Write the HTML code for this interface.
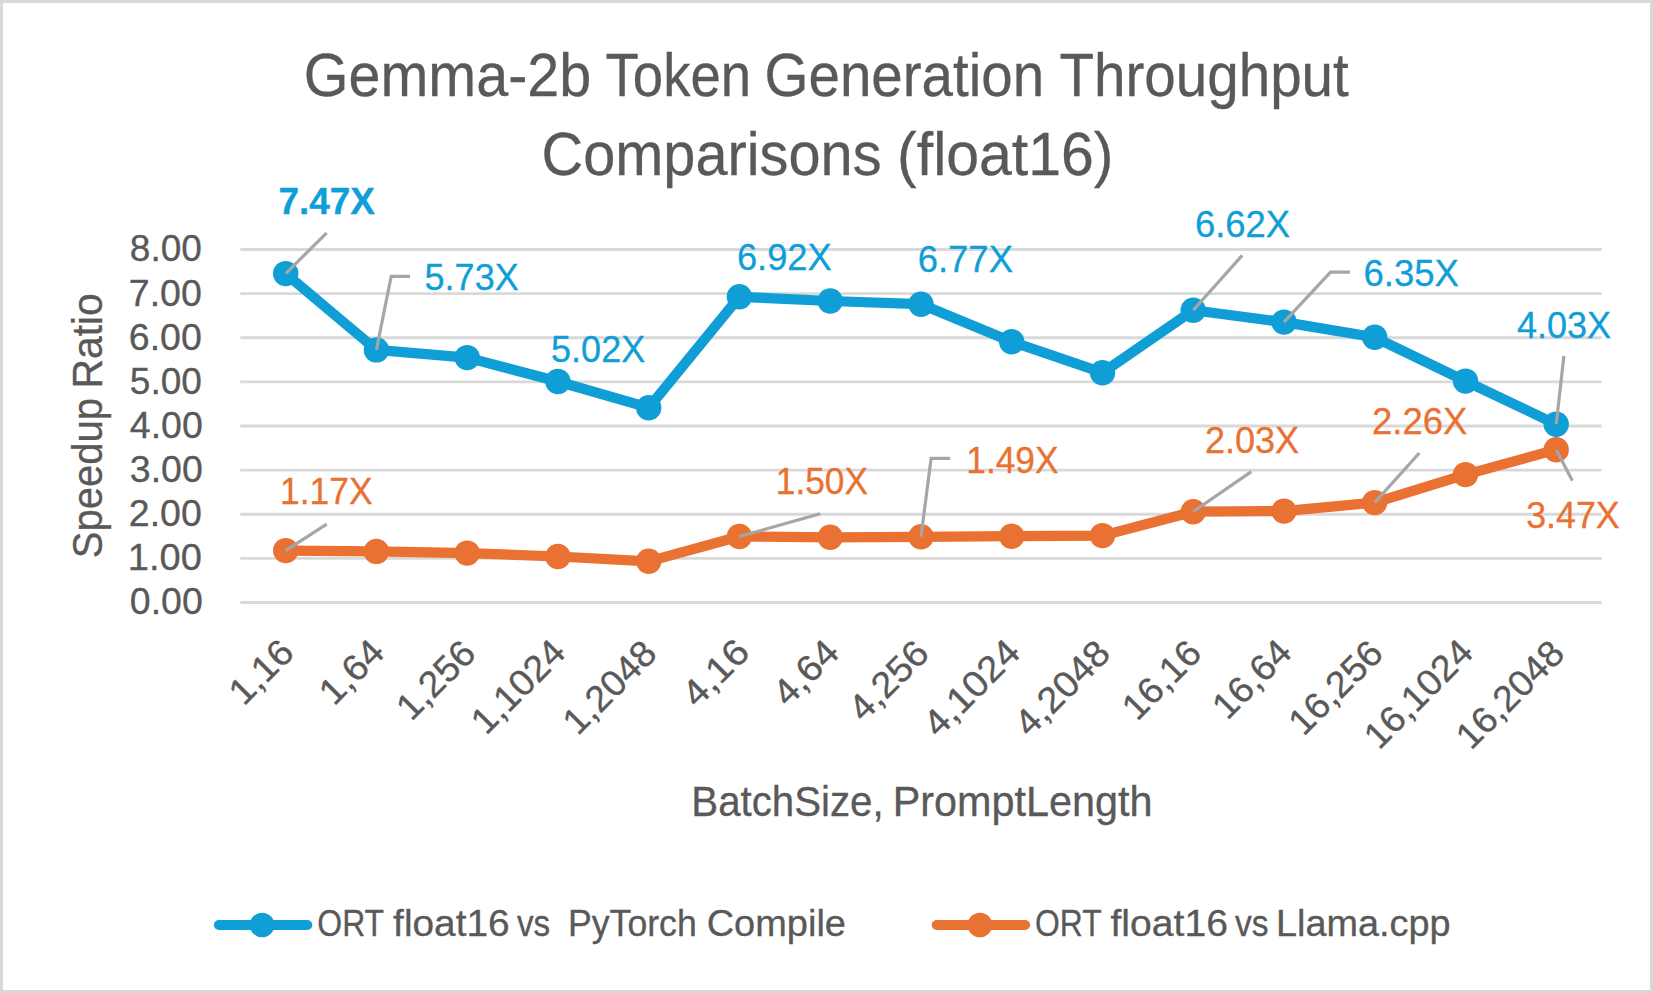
<!DOCTYPE html>
<html lang="en"><head><meta charset="utf-8"><title>Gemma-2b Token Generation Throughput Comparisons (float16)</title>
<style>html,body{margin:0;padding:0;background:#fff}svg{display:block}text{stroke-width:0.32px;font-family:"Liberation Sans",sans-serif;white-space:pre}</style></head><body>
<svg width="1653" height="993" viewBox="0 0 1653 993">
<rect x="0" y="0" width="1653" height="993" fill="#fff"/>
<rect id="border" x="1.5" y="1.5" width="1650" height="990" fill="none" stroke="#D9D9D9" stroke-width="3"/>
<g id="grid" stroke="#D9D9D9" stroke-width="2.8">
<line x1="240.3" x2="1601.6" y1="602.50" y2="602.50"/>
<line x1="240.3" x2="1601.6" y1="558.38" y2="558.38"/>
<line x1="240.3" x2="1601.6" y1="514.25" y2="514.25"/>
<line x1="240.3" x2="1601.6" y1="470.12" y2="470.12"/>
<line x1="240.3" x2="1601.6" y1="426.00" y2="426.00"/>
<line x1="240.3" x2="1601.6" y1="381.88" y2="381.88"/>
<line x1="240.3" x2="1601.6" y1="337.75" y2="337.75"/>
<line x1="240.3" x2="1601.6" y1="293.62" y2="293.62"/>
<line x1="240.3" x2="1601.6" y1="249.50" y2="249.50"/>
</g>
<g id="sb"><polyline points="285.7,273.6 376.4,349.9 467.2,357.6 557.9,381.5 648.7,407.7 739.4,296.8 830.2,301.0 921.0,304.2 1011.7,341.7 1102.5,372.7 1193.2,310.2 1284.0,322.1 1374.7,337.3 1465.5,381.1 1556.2,424.3" fill="none" stroke="#0F9ED5" stroke-width="10.2" stroke-linejoin="round" stroke-linecap="round"/>
<circle cx="285.7" cy="273.6" r="12.7" fill="#0F9ED5"/>
<circle cx="376.4" cy="349.9" r="12.7" fill="#0F9ED5"/>
<circle cx="467.2" cy="357.6" r="12.7" fill="#0F9ED5"/>
<circle cx="557.9" cy="381.5" r="12.7" fill="#0F9ED5"/>
<circle cx="648.7" cy="407.7" r="12.7" fill="#0F9ED5"/>
<circle cx="739.4" cy="296.8" r="12.7" fill="#0F9ED5"/>
<circle cx="830.2" cy="301.0" r="12.7" fill="#0F9ED5"/>
<circle cx="921.0" cy="304.2" r="12.7" fill="#0F9ED5"/>
<circle cx="1011.7" cy="341.7" r="12.7" fill="#0F9ED5"/>
<circle cx="1102.5" cy="372.7" r="12.7" fill="#0F9ED5"/>
<circle cx="1193.2" cy="310.2" r="12.7" fill="#0F9ED5"/>
<circle cx="1284.0" cy="322.1" r="12.7" fill="#0F9ED5"/>
<circle cx="1374.7" cy="337.3" r="12.7" fill="#0F9ED5"/>
<circle cx="1465.5" cy="381.1" r="12.7" fill="#0F9ED5"/>
<circle cx="1556.2" cy="424.3" r="12.7" fill="#0F9ED5"/>
</g>
<g id="so"><polyline points="285.7,550.6 376.4,551.4 467.2,553.1 557.9,556.5 648.7,561.3 739.4,536.5 830.2,537.3 921.0,536.8 1011.7,536.2 1102.5,535.6 1193.2,511.7 1284.0,511.1 1374.7,502.6 1465.5,474.6 1556.2,449.7" fill="none" stroke="#E97132" stroke-width="10.2" stroke-linejoin="round" stroke-linecap="round"/>
<circle cx="285.7" cy="550.6" r="12.7" fill="#E97132"/>
<circle cx="376.4" cy="551.4" r="12.7" fill="#E97132"/>
<circle cx="467.2" cy="553.1" r="12.7" fill="#E97132"/>
<circle cx="557.9" cy="556.5" r="12.7" fill="#E97132"/>
<circle cx="648.7" cy="561.3" r="12.7" fill="#E97132"/>
<circle cx="739.4" cy="536.5" r="12.7" fill="#E97132"/>
<circle cx="830.2" cy="537.3" r="12.7" fill="#E97132"/>
<circle cx="921.0" cy="536.8" r="12.7" fill="#E97132"/>
<circle cx="1011.7" cy="536.2" r="12.7" fill="#E97132"/>
<circle cx="1102.5" cy="535.6" r="12.7" fill="#E97132"/>
<circle cx="1193.2" cy="511.7" r="12.7" fill="#E97132"/>
<circle cx="1284.0" cy="511.1" r="12.7" fill="#E97132"/>
<circle cx="1374.7" cy="502.6" r="12.7" fill="#E97132"/>
<circle cx="1465.5" cy="474.6" r="12.7" fill="#E97132"/>
<circle cx="1556.2" cy="449.7" r="12.7" fill="#E97132"/>
</g>
<g id="lead" fill="none" stroke="#A6A6A6" stroke-width="3.2">
<polyline points="285.7,273.6 326.7,232.8"/>
<polyline points="376.4,349.9 391.2,276.3 410.0,276.3"/>
<polyline points="1193.2,310.2 1242.2,255.4"/>
<polyline points="1284.0,322.1 1330.5,272.2 1349.9,272.2"/>
<polyline points="1556.2,424.3 1563.9,355.9"/>
<polyline points="285.7,550.6 326.7,524.1"/>
<polyline points="739.4,536.5 820.2,513.7"/>
<polyline points="921.0,536.8 931.1,458.3 950.2,458.3"/>
<polyline points="1193.2,511.7 1251.3,471.6"/>
<polyline points="1374.7,502.6 1419.3,453.0"/>
<polyline points="1556.2,449.7 1572.4,480.7"/>
</g>
<g class="lg"><line x1="218.9" x2="307.3" y1="925" y2="925" stroke="#0F9ED5" stroke-width="10" stroke-linecap="round"/><circle cx="262.1" cy="925" r="12.3" fill="#0F9ED5"/></g>
<g class="lg"><line x1="936.7" x2="1025.1" y1="925" y2="925" stroke="#E97132" stroke-width="10" stroke-linecap="round"/><circle cx="979.9" cy="925" r="12.3" fill="#E97132"/></g>
<text id="t1_0" transform="translate(303.80,95.80) scale(0.9422,1)" font-size="61.00" fill="#595959" stroke="#595959">Gemma-2b</text>
<text id="t1_1" transform="translate(605.60,95.80) scale(0.8934,1)" font-size="61.00" fill="#595959" stroke="#595959">Token</text>
<text id="t1_2" transform="translate(764.60,95.80) scale(0.9262,1)" font-size="61.00" fill="#595959" stroke="#595959">Generation</text>
<text id="t1_3" transform="translate(1059.40,95.80) scale(0.9276,1)" font-size="61.00" fill="#595959" stroke="#595959">Throughput</text>
<text id="t2_0" transform="translate(541.50,174.80) scale(0.9464,1)" font-size="61.00" fill="#595959" stroke="#595959">Comparisons</text>
<text id="t2_1" transform="translate(897.10,174.80) scale(0.9672,1)" font-size="61.00" fill="#595959" stroke="#595959">(float16)</text>
<text id="y0" transform="translate(129.80,614.40) scale(1.0118,1)" font-size="37.10" fill="#595959" stroke="#595959">0.00</text>
<text id="y1" transform="translate(127.80,570.27) scale(1.0256,1)" font-size="37.10" fill="#595959" stroke="#595959">1.00</text>
<text id="y2" transform="translate(128.80,526.15) scale(1.0118,1)" font-size="37.10" fill="#595959" stroke="#595959">2.00</text>
<text id="y3" transform="translate(129.80,482.02) scale(1.0118,1)" font-size="37.10" fill="#595959" stroke="#595959">3.00</text>
<text id="y4" transform="translate(129.80,437.90) scale(1.0118,1)" font-size="37.10" fill="#595959" stroke="#595959">4.00</text>
<text id="y5" transform="translate(129.80,393.77) scale(0.9979,1)" font-size="37.10" fill="#595959" stroke="#595959">5.00</text>
<text id="y6" transform="translate(128.80,349.65) scale(1.0118,1)" font-size="37.10" fill="#595959" stroke="#595959">6.00</text>
<text id="y7" transform="translate(128.80,305.52) scale(1.0118,1)" font-size="37.10" fill="#595959" stroke="#595959">7.00</text>
<text id="y8" transform="translate(129.80,261.40) scale(0.9979,1)" font-size="37.10" fill="#595959" stroke="#595959">8.00</text>
<text id="xt_0" transform="translate(691.30,816.30) scale(0.9467,1)" font-size="42.50" fill="#595959" stroke="#595959">BatchSize,</text>
<text id="xt_1" transform="translate(892.80,816.30) scale(0.9727,1)" font-size="42.50" fill="#595959" stroke="#595959">PromptLength</text>
<text id="yt_0" transform="translate(101.90,558.20) rotate(-90) scale(0.9248,1) translate(-0.00,0)" font-size="43.3" fill="#595959" stroke="#595959">Speedup</text>
<text id="yt_1" transform="translate(101.90,388.60) rotate(-90) scale(0.9446,1) translate(-0.00,0)" font-size="43.3" fill="#595959" stroke="#595959">Ratio</text>
<text id="l1_0" transform="translate(317.30,936.00) scale(0.8676,1)" font-size="36.80" fill="#595959" stroke="#595959">ORT</text>
<text id="l1_1" transform="translate(393.10,936.00) scale(1.0555,1)" font-size="36.80" fill="#595959" stroke="#595959">float16</text>
<text id="l1_2" transform="translate(516.90,936.00) scale(0.9034,1)" font-size="36.80" fill="#595959" stroke="#595959">vs</text>
<text id="l1_3" transform="translate(568.00,936.00) scale(0.9687,1)" font-size="36.80" fill="#595959" stroke="#595959">PyTorch</text>
<text id="l1_4" transform="translate(706.70,936.00) scale(1.0323,1)" font-size="36.80" fill="#595959" stroke="#595959">Compile</text>
<text id="l2_0" transform="translate(1035.00,936.00) scale(0.8663,1)" font-size="36.80" fill="#595959" stroke="#595959">ORT</text>
<text id="l2_1" transform="translate(1110.50,936.00) scale(1.0636,1)" font-size="36.80" fill="#595959" stroke="#595959">float16</text>
<text id="l2_2" transform="translate(1234.90,936.00) scale(0.9143,1)" font-size="36.80" fill="#595959" stroke="#595959">vs</text>
<text id="l2_3" transform="translate(1276.10,936.00) scale(1.0277,1)" font-size="36.80" fill="#595959" stroke="#595959">Llama.cpp</text>
<text id="d747" transform="translate(278.50,213.90) scale(1.0089,1)" font-size="36.60" fill="#0F9ED5" stroke="#0F9ED5" font-weight="bold">7.47X</text>
<text id="d573" transform="translate(424.60,289.70) scale(0.9838,1)" font-size="36.60" fill="#0F9ED5" stroke="#0F9ED5">5.73X</text>
<text id="d502" transform="translate(551.10,362.40) scale(0.9838,1)" font-size="36.60" fill="#0F9ED5" stroke="#0F9ED5">5.02X</text>
<text id="d692" transform="translate(736.90,270.30) scale(0.9922,1)" font-size="36.60" fill="#0F9ED5" stroke="#0F9ED5">6.92X</text>
<text id="d677" transform="translate(917.70,272.00) scale(0.9963,1)" font-size="36.60" fill="#0F9ED5" stroke="#0F9ED5">6.77X</text>
<text id="d662" transform="translate(1194.90,237.20) scale(0.9953,1)" font-size="36.60" fill="#0F9ED5" stroke="#0F9ED5">6.62X</text>
<text id="d635" transform="translate(1363.50,285.90) scale(0.9974,1)" font-size="36.60" fill="#0F9ED5" stroke="#0F9ED5">6.35X</text>
<text id="d403" transform="translate(1516.90,337.60) scale(0.9849,1)" font-size="36.60" fill="#0F9ED5" stroke="#0F9ED5">4.03X</text>
<text id="d117" transform="translate(280.00,504.40) scale(0.9671,1)" font-size="36.60" fill="#E97132" stroke="#E97132">1.17X</text>
<text id="d150" transform="translate(775.80,494.40) scale(0.9640,1)" font-size="36.60" fill="#E97132" stroke="#E97132">1.50X</text>
<text id="d149" transform="translate(966.30,472.50) scale(0.9640,1)" font-size="36.60" fill="#E97132" stroke="#E97132">1.49X</text>
<text id="d203" transform="translate(1204.90,453.00) scale(0.9859,1)" font-size="36.60" fill="#E97132" stroke="#E97132">2.03X</text>
<text id="d226" transform="translate(1372.10,433.50) scale(0.9963,1)" font-size="36.60" fill="#E97132" stroke="#E97132">2.26X</text>
<text id="d347" transform="translate(1526.20,527.60) scale(0.9775,1)" font-size="36.60" fill="#E97132" stroke="#E97132">3.47X</text>
<text id="x0" transform="translate(296.08,654.40) rotate(-45) scale(1.0401,1) translate(-71.25,0)" font-size="36.6" fill="#595959" stroke="#595959">1,16</text>
<text id="x1" transform="translate(386.43,654.40) rotate(-45) scale(1.0382,1) translate(-71.25,0)" font-size="36.6" fill="#595959" stroke="#595959">1,64</text>
<text id="x2" transform="translate(477.78,655.40) rotate(-45) scale(1.0285,1) translate(-91.62,0)" font-size="36.6" fill="#595959" stroke="#595959">1,256</text>
<text id="x3" transform="translate(567.74,654.40) rotate(-45) scale(1.0314,1) translate(-112.00,0)" font-size="36.6" fill="#595959" stroke="#595959">1,1024</text>
<text id="x4" transform="translate(658.89,655.40) rotate(-45) scale(1.0230,1) translate(-112.00,0)" font-size="36.6" fill="#595959" stroke="#595959">1,2048</text>
<text id="x5" transform="translate(751.64,654.20) rotate(-45) scale(1.0861,1) translate(-71.25,0)" font-size="36.6" fill="#595959" stroke="#595959">4,16</text>
<text id="x6" transform="translate(841.20,654.40) rotate(-45) scale(1.0625,1) translate(-71.25,0)" font-size="36.6" fill="#595959" stroke="#595959">4,64</text>
<text id="x7" transform="translate(931.15,655.40) rotate(-45) scale(1.0459,1) translate(-91.62,0)" font-size="36.6" fill="#595959" stroke="#595959">4,256</text>
<text id="x8" transform="translate(1022.50,654.40) rotate(-45) scale(1.0651,1) translate(-112.00,0)" font-size="36.6" fill="#595959" stroke="#595959">4,1024</text>
<text id="x9" transform="translate(1112.46,655.40) rotate(-45) scale(1.0476,1) translate(-112.00,0)" font-size="36.6" fill="#595959" stroke="#595959">4,2048</text>
<text id="x10" transform="translate(1203.61,655.20) rotate(-45) scale(1.0299,1) translate(-91.62,0)" font-size="36.6" fill="#595959" stroke="#595959">16,16</text>
<text id="x11" transform="translate(1293.96,654.40) rotate(-45) scale(1.0294,1) translate(-91.62,0)" font-size="36.6" fill="#595959" stroke="#595959">16,64</text>
<text id="x12" transform="translate(1385.12,655.40) rotate(-45) scale(1.0306,1) translate(-112.00,0)" font-size="36.6" fill="#595959" stroke="#595959">16,256</text>
<text id="x13" transform="translate(1475.27,654.40) rotate(-45) scale(1.0280,1) translate(-132.38,0)" font-size="36.6" fill="#595959" stroke="#595959">16,1024</text>
<text id="x14" transform="translate(1566.62,655.40) rotate(-45) scale(1.0223,1) translate(-132.38,0)" font-size="36.6" fill="#595959" stroke="#595959">16,2048</text>
</svg></body></html>
